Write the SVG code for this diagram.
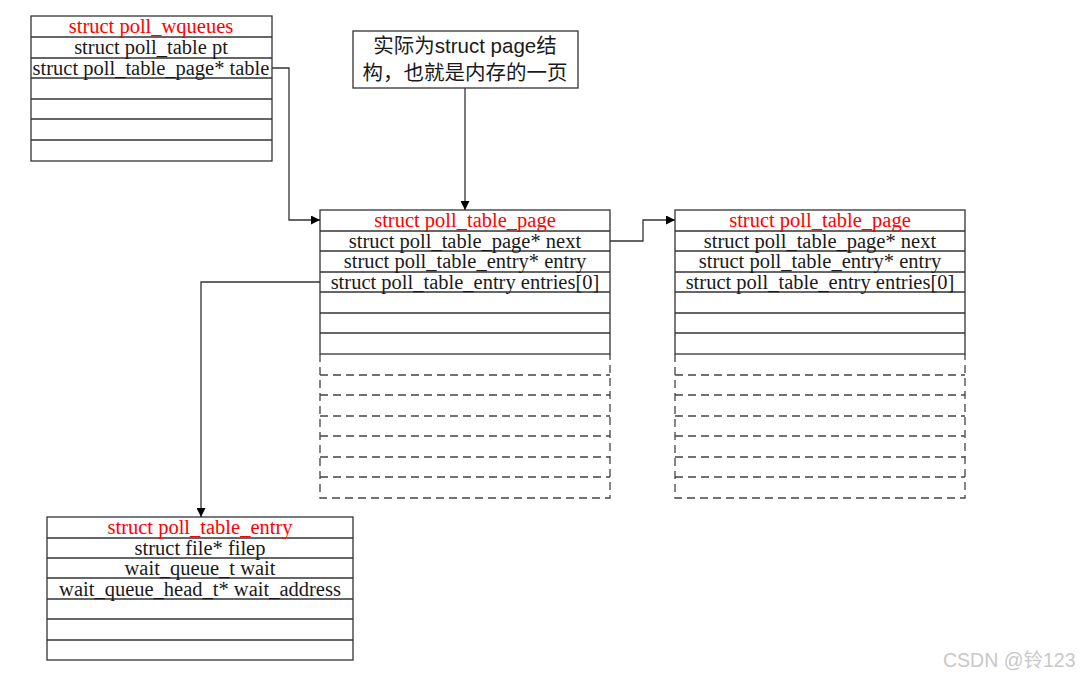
<svg xmlns="http://www.w3.org/2000/svg" width="1081" height="677" viewBox="0 0 1081 677">
<style>
.box{fill:#fff;stroke:#333;stroke-width:1.3}
.ln{stroke:#333;stroke-width:1.3}
.dl{stroke:#444;stroke-width:1.3;stroke-dasharray:8,5;fill:none}
.t{font-family:"Liberation Serif","Times New Roman",serif;font-size:20.5px;fill:#1a1a1a;text-anchor:middle}
.h{fill:#f00}
.conn{stroke:#333;stroke-width:1.3;fill:none}
.note{font-family:"Liberation Sans","Noto Sans CJK SC",sans-serif;font-size:20.5px;fill:#1a1a1a;text-anchor:middle}
.wm{font-family:"Liberation Sans","Noto Sans CJK SC",sans-serif;font-size:19.5px;fill:#c8c8c8}
</style>
<defs>
<marker id="arr" viewBox="0 0 10 10" refX="10" refY="5" markerWidth="9" markerHeight="9" markerUnits="userSpaceOnUse" orient="auto">
<path d="M0,0 L10,5 L0,10 z" fill="#000"/>
</marker>
</defs>
<rect width="1081" height="677" fill="#fff"/>

<g id="poll_wqueues">
<rect class="box" x="31" y="16" width="241" height="145"/>
<line class="ln" x1="31" y1="37" x2="272" y2="37"/>
<line class="ln" x1="31" y1="58" x2="272" y2="58"/>
<line class="ln" x1="31" y1="78" x2="272" y2="78"/>
<line class="ln" x1="31" y1="99" x2="272" y2="99"/>
<line class="ln" x1="31" y1="119" x2="272" y2="119"/>
<line class="ln" x1="31" y1="140" x2="272" y2="140"/>
<text class="t h" x="151" y="33">struct poll_wqueues</text>
<text class="t" x="151" y="54">struct poll_table pt</text>
<text class="t" x="151" y="75">struct poll_table_page* table</text>
</g>

<g id="note">
<rect class="box" x="353" y="31" width="225" height="57"/>
<text class="note" x="465" y="53">实际为struct page结</text>
<text class="note" x="465" y="80">构，也就是内存的一页</text>
</g>

<g id="page1">
<rect fill="#fff" x="320" y="210" width="290" height="288"/>
<rect class="box" x="320" y="210" width="290" height="144"/>
<line class="ln" x1="320" y1="231" x2="610" y2="231"/>
<line class="ln" x1="320" y1="251" x2="610" y2="251"/>
<line class="ln" x1="320" y1="272" x2="610" y2="272"/>
<line class="ln" x1="320" y1="292" x2="610" y2="292"/>
<line class="ln" x1="320" y1="313" x2="610" y2="313"/>
<line class="ln" x1="320" y1="333" x2="610" y2="333"/>
<path class="dl" d="M320,354 V498 H610 V354"/>
<line class="dl" x1="320" y1="375" x2="610" y2="375"/>
<line class="dl" x1="320" y1="395" x2="610" y2="395"/>
<line class="dl" x1="320" y1="416" x2="610" y2="416"/>
<line class="dl" x1="320" y1="436" x2="610" y2="436"/>
<line class="dl" x1="320" y1="457" x2="610" y2="457"/>
<line class="dl" x1="320" y1="477" x2="610" y2="477"/>
<text class="t h" x="465" y="227">struct poll_table_page</text>
<text class="t" x="465" y="248">struct poll_table_page* next</text>
<text class="t" x="465" y="268">struct poll_table_entry* entry</text>
<text class="t" x="465" y="289">struct poll_table_entry entries[0]</text>
</g>

<g id="page2">
<rect fill="#fff" x="675" y="210" width="290" height="288"/>
<rect class="box" x="675" y="210" width="290" height="144"/>
<line class="ln" x1="675" y1="231" x2="965" y2="231"/>
<line class="ln" x1="675" y1="251" x2="965" y2="251"/>
<line class="ln" x1="675" y1="272" x2="965" y2="272"/>
<line class="ln" x1="675" y1="292" x2="965" y2="292"/>
<line class="ln" x1="675" y1="313" x2="965" y2="313"/>
<line class="ln" x1="675" y1="333" x2="965" y2="333"/>
<path class="dl" d="M675,354 V498 H965 V354"/>
<line class="dl" x1="675" y1="375" x2="965" y2="375"/>
<line class="dl" x1="675" y1="395" x2="965" y2="395"/>
<line class="dl" x1="675" y1="416" x2="965" y2="416"/>
<line class="dl" x1="675" y1="436" x2="965" y2="436"/>
<line class="dl" x1="675" y1="457" x2="965" y2="457"/>
<line class="dl" x1="675" y1="477" x2="965" y2="477"/>
<text class="t h" x="820" y="227">struct poll_table_page</text>
<text class="t" x="820" y="248">struct poll_table_page* next</text>
<text class="t" x="820" y="268">struct poll_table_entry* entry</text>
<text class="t" x="820" y="289">struct poll_table_entry entries[0]</text>
</g>

<g id="entry">
<rect class="box" x="47" y="517" width="306" height="143"/>
<line class="ln" x1="47" y1="538" x2="353" y2="538"/>
<line class="ln" x1="47" y1="558" x2="353" y2="558"/>
<line class="ln" x1="47" y1="578" x2="353" y2="578"/>
<line class="ln" x1="47" y1="599" x2="353" y2="599"/>
<line class="ln" x1="47" y1="619" x2="353" y2="619"/>
<line class="ln" x1="47" y1="640" x2="353" y2="640"/>
<text class="t h" x="200" y="534">struct poll_table_entry</text>
<text class="t" x="200" y="555">struct file* filep</text>
<text class="t" x="200" y="575">wait_queue_t wait</text>
<text class="t" x="200" y="596">wait_queue_head_t* wait_address</text>
</g>

<g id="connectors">
<path class="conn" d="M272,68 H289 V220 H320" marker-end="url(#arr)"/>
<path class="conn" d="M465,88 V210" marker-end="url(#arr)"/>
<path class="conn" d="M610,241 H643 V220 H675" marker-end="url(#arr)"/>
<path class="conn" d="M320,282 H201 V517" marker-end="url(#arr)"/>
</g>

<text class="wm" x="943" y="667">CSDN @铃123</text>
</svg>
